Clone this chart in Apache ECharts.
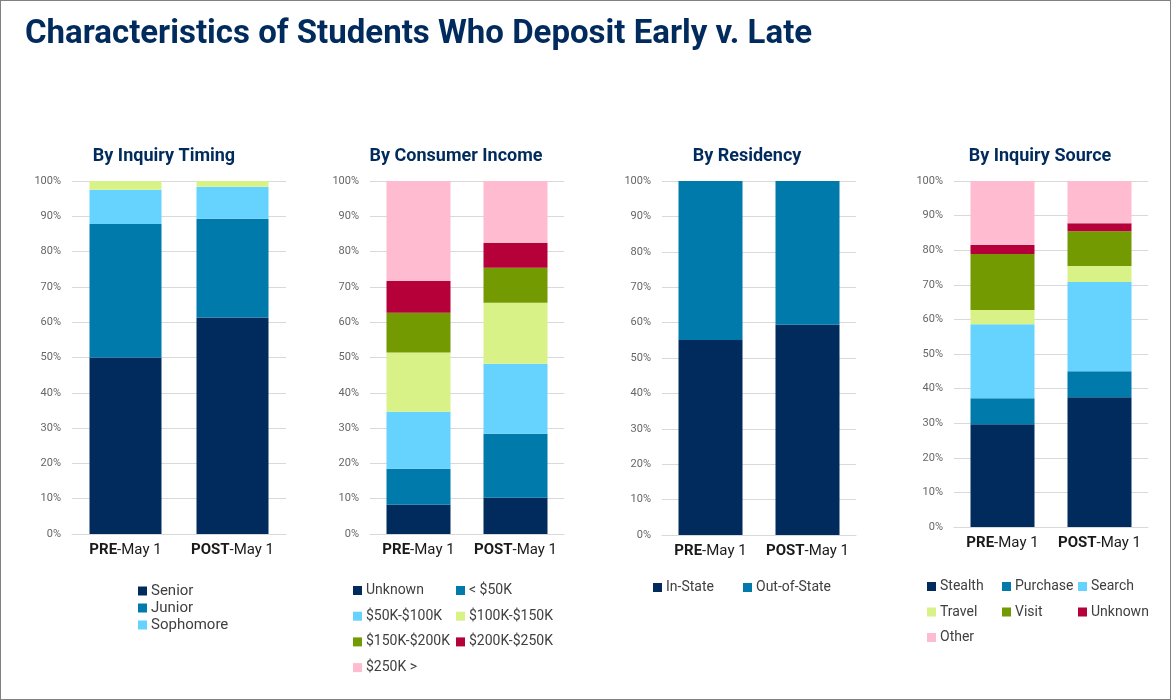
<!DOCTYPE html>
<html>
<head>
<meta charset="utf-8">
<script src="https://cdn.jsdelivr.net/npm/echarts@6/dist/echarts.min.js"></script>
<style>
  body { margin: 0; background: #fff; }
  #frame { position: relative; width: 1171px; height: 700px; box-sizing: border-box; border: 1px solid #808080; overflow: hidden; }
  .layer { position: absolute; left: 0; top: 0; width: 1171px; height: 700px; }
</style>
</head>
<body>
<div id="frame">
  <div class="layer" id="c1"></div>
  <div class="layer" id="c2"></div>
  <div class="layer" id="c3"></div>
  <div class="layer" id="c4"></div>
</div>
<script>
// shared x categories
var periods = ['PRE', 'POST'];

// By Inquiry Timing (percent of deposits, bottom to top)
var timingNames = ['Senior', 'Junior', 'Sophomore', 'Freshman'];
var timingPre = [50.0, 37.8, 9.7, 2.5];
var timingPost = [61.3, 28.0, 9.1, 1.6];

// By Consumer Income
var incomeNames = ['Unknown', '< $50K', '$50K-$100K', '$100K-$150K', '$150K-$200K', '$200K-$250K', '$250K >'];
var incomePre = [8.3, 10.2, 16.1, 16.8, 11.3, 9.0, 28.3];
var incomePost = [10.3, 18.1, 19.8, 17.3, 9.9, 7.1, 17.5];

// By Residency
var residencyNames = ['In-State', 'Out-of-State'];
var residencyPre = [55.1, 44.9];
var residencyPost = [59.4, 40.6];

// By Inquiry Source
var sourceNames = ['Stealth', 'Purchase', 'Search', 'Travel', 'Visit', 'Unknown', 'Other'];
var sourcePre = [29.7, 7.5, 21.4, 4.1, 16.2, 2.6, 18.5];
var sourcePost = [37.5, 7.5, 25.8, 4.6, 10.1, 2.3, 12.2];

var palette = ['#002B5C', '#0079AB', '#66D3FF', '#D9F288', '#739A00', '#B5003A', '#FFBBD0'];
var FONT = 'Roboto, "Noto Sans", sans-serif';
var NAVY = '#002B5C';

function buildOption(cfg) {
  var series = cfg.names.map(function (name, i) {
    return {
      name: name,
      type: 'bar',
      stack: 'total',
      barWidth: cfg.barWidth,
      itemStyle: { color: palette[i] },
      data: [cfg.pre[i], cfg.post[i]]
    };
  });
  var titles = [{
    text: cfg.title,
    left: cfg.titleX,
    top: 141,
    textAlign: 'center',
    textStyle: { fontFamily: FONT, fontSize: 18, fontWeight: 'bold', color: NAVY }
  }];
  if (cfg.mainTitle) {
    titles.push({
      text: cfg.mainTitle,
      left: 19,
      top: 12,
      textStyle: { fontFamily: FONT, fontSize: 33, fontWeight: 'bold', color: NAVY }
    });
  }
  var legends = cfg.legendCols.map(function (col) {
    return {
      orient: 'vertical',
      left: col.left,
      top: cfg.legendTop,
      padding: 0,
      itemWidth: 9,
      itemHeight: 9,
      itemGap: cfg.legendGap,
      icon: 'rect',
      selectedMode: false,
      data: col.items,
      textStyle: { fontFamily: FONT, fontSize: cfg.legendSize, color: '#404040', lineHeight: 15, padding: [0, 0, 0, -1] }
    };
  });
  return {
    animation: false,
    textStyle: { fontFamily: FONT },
    title: titles,
    legend: legends,
    grid: { left: cfg.gridLeft, width: cfg.gridWidth, top: 180, height: cfg.gridHeight },
    xAxis: {
      type: 'category',
      data: periods,
      axisTick: { show: false },
      axisLine: { lineStyle: { color: '#D9D9D9' } },
      axisLabel: {
        interval: 0,
        margin: 9,
        fontSize: 15,
        color: '#1a1a1a',
        formatter: function (v) { return '{b|' + v + '}-May 1'; },
        rich: { b: { fontWeight: 'bold', fontSize: 15, color: '#1a1a1a' } }
      }
    },
    yAxis: {
      type: 'value',
      min: 0,
      max: 100,
      interval: 10,
      axisLine: { show: false },
      axisTick: { show: false },
      splitLine: { lineStyle: { color: '#D9D9D9' } },
      axisLabel: { formatter: '{value}%', fontSize: 11, color: '#666', margin: 11 }
    },
    series: series
  };
}

var charts = [
  {
    el: 'c1', title: 'By Inquiry Timing', titleX: 158,
    mainTitle: 'Characteristics of Students Who Deposit Early v. Late',
    names: timingNames, pre: timingPre, post: timingPost,
    gridLeft: 71, gridWidth: 214, gridHeight: 353, barWidth: 72,
    legendTop: 582.5, legendGap: 2, legendSize: 15,
    legendCols: [{ left: 137, items: ['Senior', 'Junior', 'Sophomore'] }]
  },
  {
    el: 'c2', title: 'By Consumer Income', titleX: 450,
    names: incomeNames, pre: incomePre, post: incomePost,
    gridLeft: 369, gridWidth: 194, gridHeight: 353, barWidth: 64,
    legendTop: 582, legendGap: 10.7, legendSize: 14,
    legendCols: [
      { left: 352, items: ['Unknown', '$50K-$100K', '$150K-$200K', '$250K >'] },
      { left: 455, items: ['< $50K', '$100K-$150K', '$200K-$250K'] }
    ]
  },
  {
    el: 'c3', title: 'By Residency', titleX: 741,
    names: residencyNames, pre: residencyPre, post: residencyPost,
    gridLeft: 661, gridWidth: 194, gridHeight: 354, barWidth: 64,
    legendTop: 579, legendGap: 10, legendSize: 14,
    legendCols: [
      { left: 652, items: ['In-State'] },
      { left: 742, items: ['Out-of-State'] }
    ]
  },
  {
    el: 'c4', title: 'By Inquiry Source', titleX: 1034,
    names: sourceNames, pre: sourcePre, post: sourcePost,
    gridLeft: 953, gridWidth: 194, gridHeight: 346, barWidth: 64,
    legendTop: 578, legendGap: 10.5, legendSize: 14,
    legendCols: [
      { left: 926, items: ['Stealth', 'Travel', 'Other'] },
      { left: 1001, items: ['Purchase', 'Visit'] },
      { left: 1077, items: ['Search', 'Unknown'] }
    ]
  }
];

charts.forEach(function (cfg) {
  var myChart = echarts.init(document.getElementById(cfg.el));
  myChart.setOption(buildOption(cfg));
});
</script>
</body>
</html>
